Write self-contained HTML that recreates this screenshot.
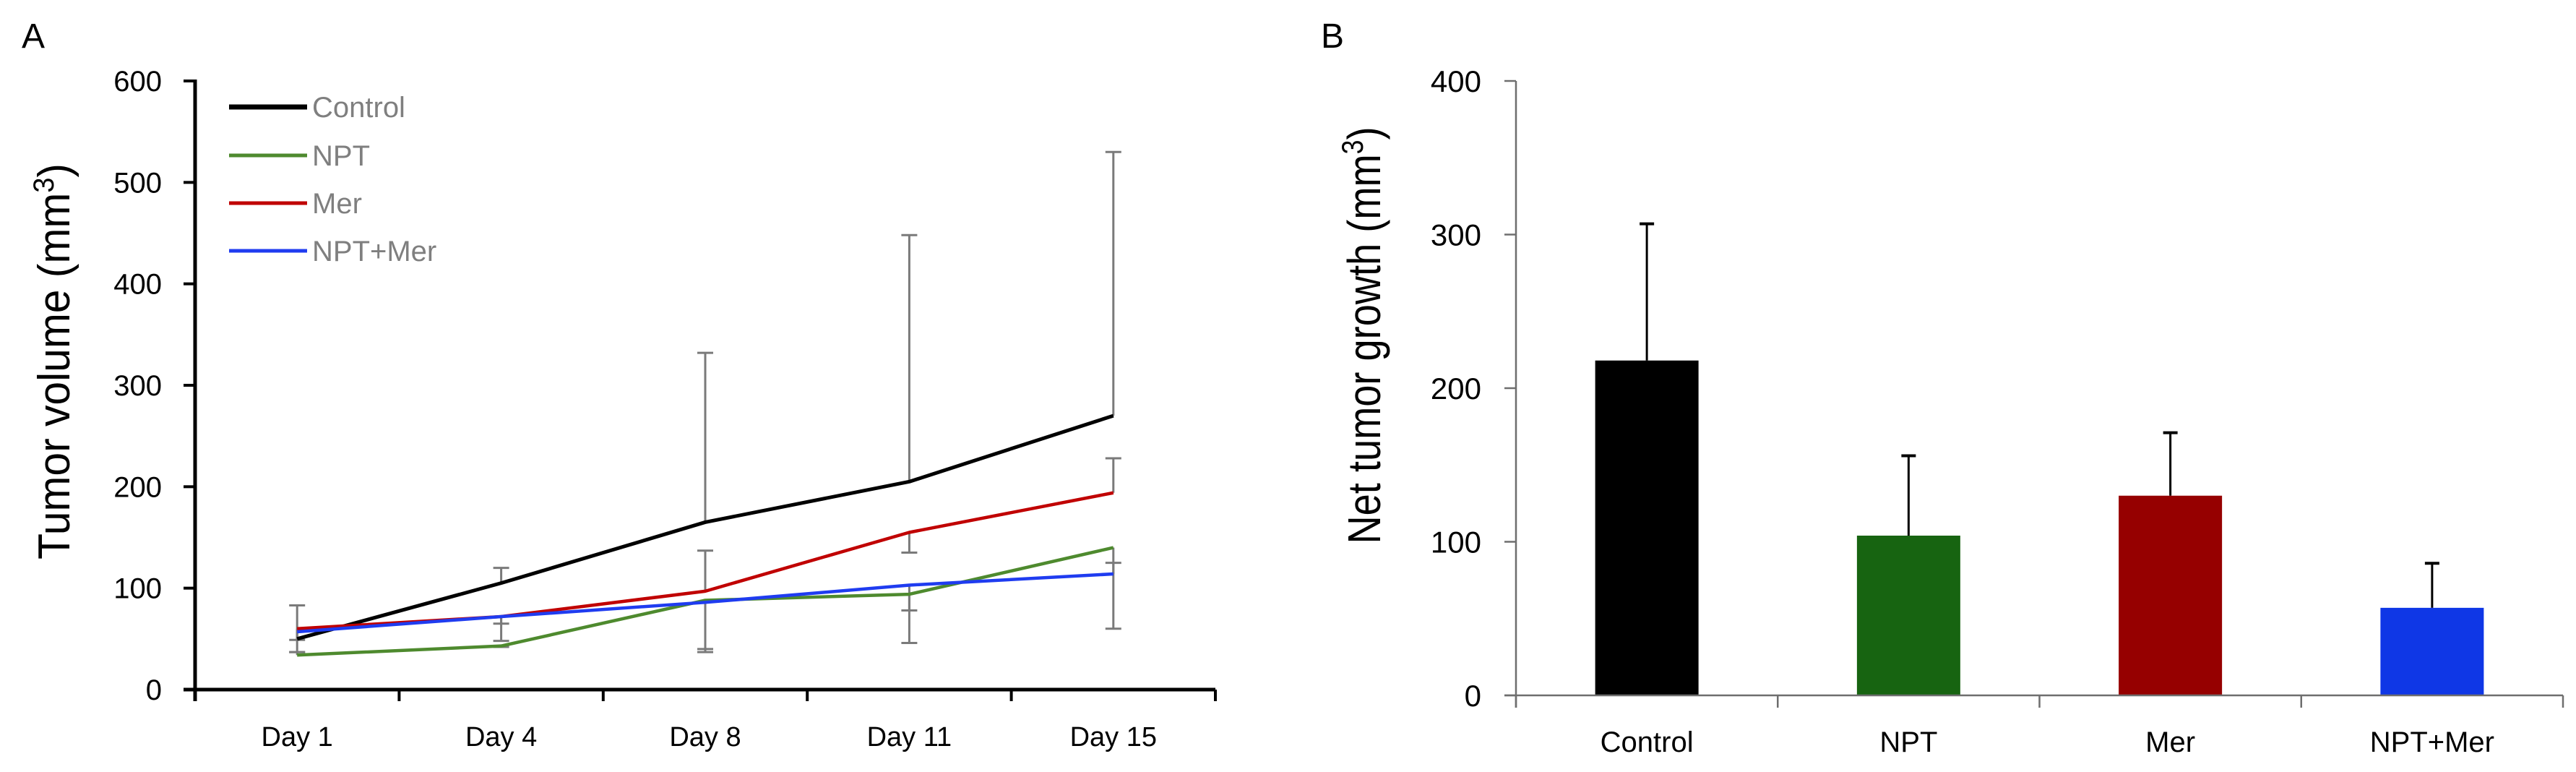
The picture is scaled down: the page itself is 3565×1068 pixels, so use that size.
<!DOCTYPE html>
<html><head><meta charset="utf-8"><style>
html,body{margin:0;padding:0;background:#fff;}
svg{display:block;font-family:"Liberation Sans",sans-serif;}
</style></head><body>
<svg id="chart" width="3565" height="1068" viewBox="0 0 3565 1068" xmlns="http://www.w3.org/2000/svg">
<text x="30" y="66" font-size="48" fill="#000">A</text>
<text x="1828" y="66" font-size="48" fill="#000">B</text>
<text transform="translate(96,500) rotate(-90)" text-anchor="middle" font-size="62" textLength="548" lengthAdjust="spacingAndGlyphs" fill="#000">Tumor volume (mm<tspan font-size="40" dy="-22">3</tspan><tspan dy="22">)</tspan></text>
<text transform="translate(1910,464) rotate(-90)" text-anchor="middle" font-size="64" textLength="577" lengthAdjust="spacingAndGlyphs" fill="#000">Net tumor growth (mm<tspan font-size="42" dy="-24">3</tspan><tspan dy="24">)</tspan></text>
<g id="A"></g>
<g id="B"></g>
</svg>
<script>
const days = ["Day 1","Day 4","Day 8","Day 11","Day 15"];
const yTicksA = [0,100,200,300,400,500,600];
const seriesNames = ["Control","NPT","Mer","NPT+Mer"];
const controlVals = [50,105,165,205,270];
const nptVals = [34,43,88,94,140];
const merVals = [60,72,97,155,194];
const comboVals = [57,72,86,103,114];
const controlErr = [83,120,332,448,530];
const nptErr = [37,42,37,46,60];
const merErr = [49,48,137,135,228];
const comboErr = [37,65,40,78,125];

const groups = ["Control","NPT","Mer","NPT+Mer"];
const growthVals = [218,104,130,57];
const growthErr = [307,156,171,86];
const yTicksB = [0,100,200,300,400];

const NS="http://www.w3.org/2000/svg";
function mk(tag,attrs,parent){const e=document.createElementNS(NS,tag);for(const k in attrs)e.setAttribute(k,attrs[k]);parent.appendChild(e);return e;}
const gA=document.getElementById('A'), gB=document.getElementById('B');

// Panel A scales
const ax0=270, ax1=1682, ay0=954, ay1=112;
const yA=v=>ay0-(v/600)*(ay0-ay1);
const bandA=(ax1-ax0)/days.length;
const xA=i=>ax0+bandA*(i+0.5);

// error bars
const colors=["#000000","#4e8a2e","#c00000","#1f3cf0"];
const valsAll=[controlVals,nptVals,merVals,comboVals];
const errAll=[controlErr,nptErr,merErr,comboErr];
errAll.forEach((errs,s)=>{errs.forEach((c,i)=>{
  const l=mk('line',{x1:xA(i),x2:xA(i),y1:yA(valsAll[s][i]),y2:yA(c),stroke:'#7a7a7a','stroke-width':3},gA);
  
  
  const cap=mk('line',{x1:xA(i)-11,x2:xA(i)+11,y1:yA(c),y2:yA(c),stroke:'#7a7a7a','stroke-width':3},gA);
  
  
});});
// lines
valsAll.forEach((vals,s)=>{
  const p=mk('polyline',{points:vals.map((v,i)=>xA(i)+','+yA(v)).join(' '),fill:'none',stroke:colors[s],'stroke-width':s==0?5:4.5,'stroke-linejoin':'round'},gA);
  
  
});
// axes A
let ya=mk('line',{x1:ax0,x2:ax0,y1:ay1-2,y2:ay0+16,stroke:'#000','stroke-width':5},gA);


let xa=mk('line',{x1:ax0-16,x2:ax1,y1:ay0,y2:ay0,stroke:'#000','stroke-width':5},gA);


yTicksA.forEach(v=>{
  const t=mk('line',{x1:ax0-16,x2:ax0,y1:yA(v),y2:yA(v),stroke:'#000','stroke-width':4},gA);
  
  
  const tx=mk('text',{x:224,y:yA(v)+14,'text-anchor':'end','font-size':40,fill:'#000'},gA);
  tx.textContent=v;
  
  
});
for(let i=0;i<=days.length;i++){
  const x=ax0+bandA*i;
  const t=mk('line',{x1:x,x2:x,y1:ay0,y2:ay0+16,stroke:'#000','stroke-width':4},gA);
  
  
}
days.forEach((d,i)=>{
  const tx=mk('text',{x:xA(i),y:1032,'text-anchor':'middle','font-size':38,fill:'#000'},gA);
  tx.textContent=d;
  
  
});
// legend
const legY=[148,215,281,347];
seriesNames.forEach((n,s)=>{
  const l=mk('line',{x1:317,x2:425,y1:legY[s],y2:legY[s],stroke:colors[s],'stroke-width':s==0?7:5},gA);
  
  
  const t=mk('text',{x:432,y:legY[s]+14,'font-size':40,fill:'#7f7f7f'},gA);
  t.textContent=n;
  
  
});

// Panel B
const bx0=2098, bx1=3547, by0=962, by1=112;
const yB=v=>by0-(v/400)*(by0-by1);
const bandB=(bx1-bx0)/groups.length;
const xB=i=>bx0+bandB*(i+0.5);
const barColors=["#000000","#176411","#960000","#0f37e6"];
const bw=143;
growthVals.forEach((v,i)=>{
  const e=mk('line',{x1:xB(i),x2:xB(i),y1:yB(v),y2:yB(growthErr[i]),stroke:'#000','stroke-width':3},gB);
  
  
  const c=mk('line',{x1:xB(i)-10,x2:xB(i)+10,y1:yB(growthErr[i]),y2:yB(growthErr[i]),stroke:'#000','stroke-width':4},gB);
  
  
  const r=mk('rect',{x:xB(i)-bw/2,y:yB(v),width:bw,height:by0-yB(v),fill:barColors[i]},gB);
  
  
  const t=mk('text',{x:xB(i),y:1040,'text-anchor':'middle','font-size':40,fill:'#000'},gB);
  t.textContent=groups[i];
  
  
});
let yb=mk('line',{x1:bx0,x2:bx0,y1:by1,y2:by0+17,stroke:'#6e6e6e','stroke-width':2.5},gB);


let xb=mk('line',{x1:bx0-16,x2:bx1,y1:by0,y2:by0,stroke:'#6e6e6e','stroke-width':2.5},gB);


yTicksB.forEach(v=>{
  const t=mk('line',{x1:bx0-16,x2:bx0,y1:yB(v),y2:yB(v),stroke:'#6e6e6e','stroke-width':2.5},gB);
  
  
  const tx=mk('text',{x:2050,y:yB(v)+15,'text-anchor':'end','font-size':42,fill:'#000'},gB);
  tx.textContent=v;
  
  
});
for(let i=0;i<=groups.length;i++){
  const x=bx0+bandB*i;
  const t=mk('line',{x1:x,x2:x,y1:by0,y2:by0+17,stroke:'#6e6e6e','stroke-width':2.5},gB);
  
  
}
</script>
</body></html>
